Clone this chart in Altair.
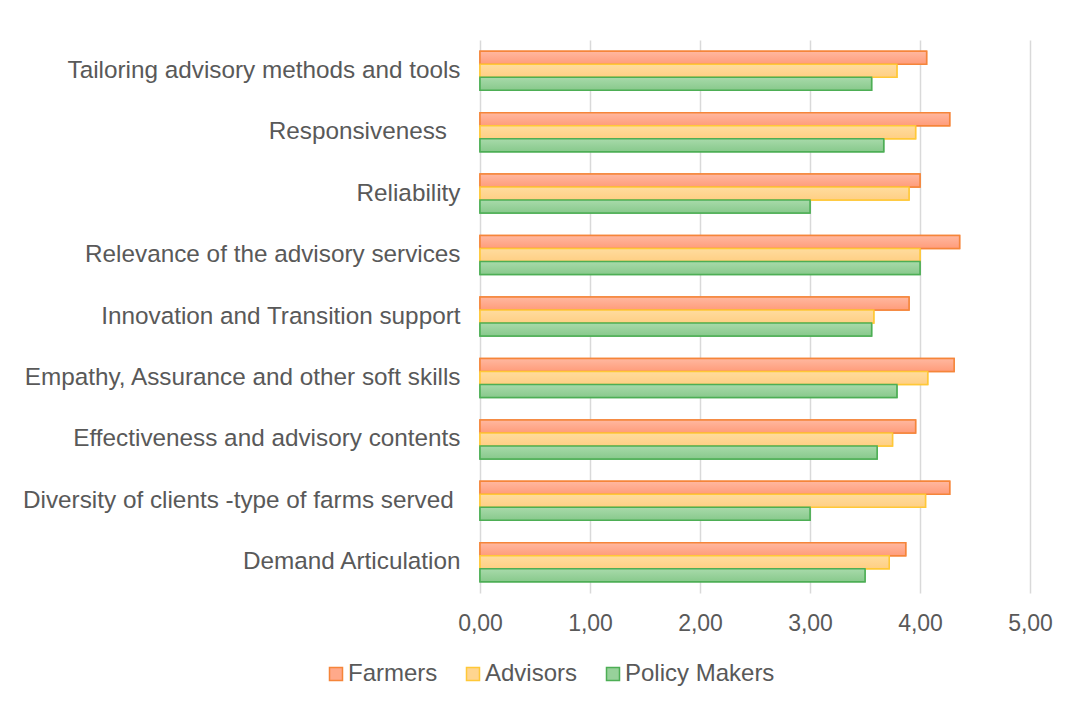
import altair as alt
import pandas as pd

categories = [
    "Tailoring advisory methods and tools",
    "Responsiveness\u00a0\u00a0\u200b",
    "Reliability",
    "Relevance of the advisory services",
    "Innovation and Transition support",
    "Empathy, Assurance and other soft skills",
    "Effectiveness and advisory contents",
    "Diversity of clients -type of farms served\u00a0\u200b",
    "Demand Articulation",
]
series = ["Farmers", "Advisors", "Policy Makers"]
farmers = [4.06, 4.27, 4.00, 4.36, 3.90, 4.31, 3.96, 4.27, 3.87]
advisors = [3.79, 3.96, 3.90, 4.00, 3.58, 4.07, 3.75, 4.05, 3.72]
policy = [3.56, 3.67, 3.00, 4.00, 3.56, 3.79, 3.61, 3.00, 3.50]

fill_solid = ["#FFA98A", "#FFD590", "#97D19A"]
fill_top = ["#FFB8A0", "#FFDC9E", "#A8DAAA"]
fill_bot = ["#FF9C7A", "#FFCF84", "#88C98C"]
strokes = ["#F5853A", "#FFC837", "#4DAE55"]

rows = []
for cat, f, a, p in zip(categories, farmers, advisors, policy):
    rows.append({"cat": cat, "series": "Farmers", "value": f})
    rows.append({"cat": cat, "series": "Advisors", "value": a})
    rows.append({"cat": cat, "series": "Policy Makers", "value": p})
df = pd.DataFrame(rows)

FONT = "Liberation Sans"
TXT = "#595959"

x_enc = alt.X(
    "value:Q",
    scale=alt.Scale(domain=[0, 5], nice=False, zero=True),
    axis=alt.Axis(
        values=[0, 1, 2, 3, 4, 5],
        labelExpr="replace(format(datum.value, '.2f'), '.', ',')",
        title=None,
        grid=True,
        gridColor="#D9D9D9",
        gridWidth=1.5,
        domain=False,
        ticks=False,
        labelFlush=False,
        labelPadding=19,
        labelFontSize=23,
        labelFont=FONT,
        labelColor=TXT,
    ),
)
y_enc = alt.Y(
    "cat:N",
    sort=categories,
    scale=alt.Scale(paddingInner=0.365, paddingOuter=0.1825),
    axis=alt.Axis(
        title=None,
        domain=False,
        ticks=False,
        labelPadding=20,
        labelFontSize=24.3,
        labelFont=FONT,
        labelColor=TXT,
        labelLimit=600,
    ),
)
yoff_enc = alt.YOffset("series:N", sort=series, scale=alt.Scale(paddingInner=0, paddingOuter=0))

base = alt.Chart(df).mark_bar(strokeWidth=1.5).encode(
    x=x_enc,
    y=y_enc,
    yOffset=yoff_enc,
    fill=alt.Fill(
        "series:N",
        sort=series,
        scale=alt.Scale(domain=series, range=fill_solid),
        legend=alt.Legend(
            title=None,
            orient="none",
            direction="horizontal",
            legendX=-156,
            legendY=622,
            symbolType="square",
            symbolSize=169,
            symbolStrokeWidth=1.5,
            labelFontSize=24,
            labelFont=FONT,
            labelColor=TXT,
            labelOffset=0,
            columnPadding=23,
        ),
    ),
    stroke=alt.Stroke(
        "series:N",
        sort=series,
        scale=alt.Scale(domain=series, range=strokes),
    ),
)

layers = [base]
for s, t, b, st in zip(series, fill_top, fill_bot, strokes):
    grad = alt.LinearGradient(
        gradient="linear",
        x1=0, x2=0, y1=0, y2=1,
        stops=[alt.GradientStop(color=t, offset=0), alt.GradientStop(color=b, offset=1)],
    )
    layers.append(
        alt.Chart(df)
        .transform_filter(alt.datum.series == s)
        .mark_bar(fill=grad, stroke=st, strokeWidth=1.5)
        .encode(x=x_enc, y=y_enc, yOffset=yoff_enc)
    )

chart = (
    alt.layer(*layers)
    .properties(
        width=550,
        height=553,
        autosize=alt.AutoSizeParams(type="none"),
        padding={"left": 472, "top": 32, "right": 30, "bottom": 94},
        background="white",
    )
    .configure_view(stroke=None)
)

chart.save("out.html", embed_options={"renderer": "svg", "actions": False})
